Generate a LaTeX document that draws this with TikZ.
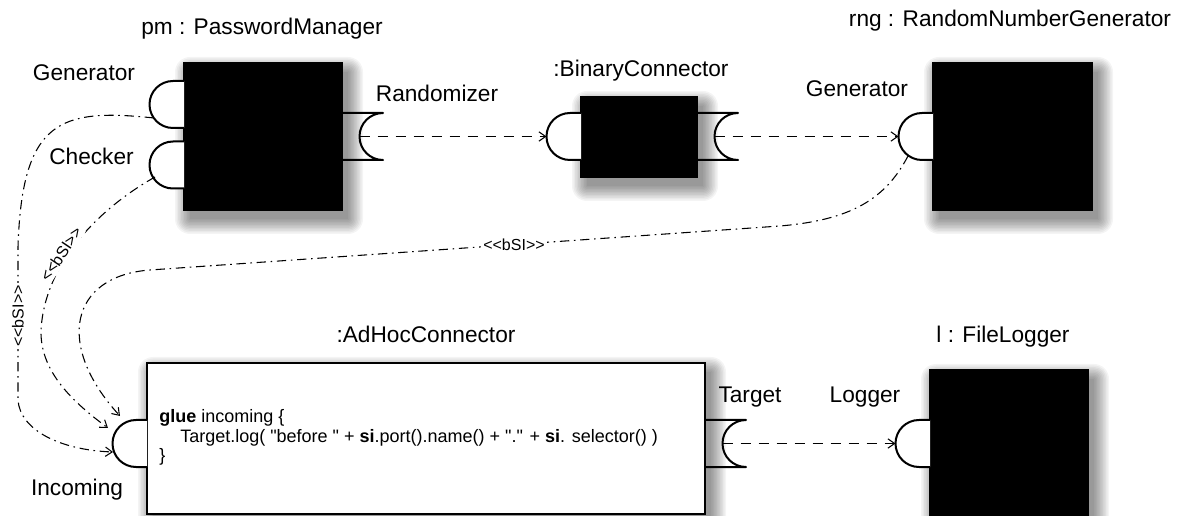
\documentclass[tikz,border=0pt]{standalone}
\usepackage{fontspec}
\setmainfont{Liberation Sans}
\usetikzlibrary{arrows.meta}
\newcommand\softshadow[4]{%
  \foreach \e in {0,1.5,...,15}{%
    \fill[black,opacity=0.045,rounded corners=\e*0.75pt] (#1+6-\e,#2+9-\e) rectangle (#3+6+\e,#4+9+\e);}}
\newcommand\provport[3]{% box edge x, centre y, name
  \draw[port,fill=white] (#1,#2-23.5) -- (#1-11,#2-23.5)
    .. controls (#1-24,#2-23.5) and (#1-34.5,#2-13) .. (#1-34.5,#2)
    .. controls (#1-34.5,#2+13) and (#1-24,#2+23.5) .. (#1-11,#2+23.5) -- (#1,#2+23.5);
  \coordinate (#3) at (#1-34.5,#2);}
\newcommand\sockport[3]{% box edge x, centre y, name
  \draw[port] (#1,#2-23.5) -- (#1+41,#2-23.5)
    .. controls (#1+28,#2-23.5) and (#1+17.5,#2-13) .. (#1+17.5,#2)
    .. controls (#1+17.5,#2+13) and (#1+28,#2+23.5) .. (#1+41,#2+23.5) -- (#1,#2+23.5);
  \coordinate (#3) at (#1+17.5,#2);}
\newcommand\qq{\XeTeXglyph\XeTeXcharglyph"22\relax}
\newcommand\bsitext{<{}<bSI>{}>}
\tikzset{
  port/.style={line width=1.5pt,line join=round},
  blackbox/.style={fill=black,draw=black,line width=1pt},
  lbl/.style={inner sep=0pt,anchor=base,font=\fontsize{17}{20}\selectfont},
  code/.style={inner sep=0pt,anchor=base west,font=\fontsize{13.5}{15}\selectfont},
  bsi/.style={inner sep=1.5pt,fill=white,font=\fontsize{12}{13}\selectfont},
  dashconn/.style={line width=0.8pt,dash pattern=on 8pt off 5.5pt,-{Straight Barb[length=5pt,width=7pt]}},
  dotconn/.style={line width=0.8pt,dash pattern=on 7pt off 3.5pt on 1.2pt off 3.5pt,-{Straight Barb[length=5pt,width=7pt]}},
}
\begin{document}
\begin{tikzpicture}[x=0.75pt,y=-0.75pt]
\useasboundingbox (0,0) rectangle (1178,516);
\clip (0,0) rectangle (1178,516);
\fill[white] (0,0) rectangle (1178,516);
% shadows
\softshadow{184}{63}{342}{210}
\softshadow{581}{97}{697}{177}
\softshadow{933}{63}{1092}{210}
\softshadow{147}{363}{705}{514}
\softshadow{930}{370}{1088}{530}
% boxes
\node[blackbox,minimum width=158*0.75pt,minimum height=147*0.75pt,inner sep=0pt] (pm) at (263,136.5) {};
\node[blackbox,minimum width=116*0.75pt,minimum height=80*0.75pt,inner sep=0pt] (bc) at (639,137) {};
\node[blackbox,minimum width=159*0.75pt,minimum height=147*0.75pt,inner sep=0pt] (rng) at (1012.5,136.5) {};
\node[draw=black,fill=white,line width=1.5pt,minimum width=558*0.75pt,minimum height=151*0.75pt,inner sep=0pt] (adhoc) at (426,438.5) {};
\node[blackbox,minimum width=158*0.75pt,minimum height=160*0.75pt,inner sep=0pt] (fl) at (1009,450) {};
% ports
\provport{184}{104.5}{pmGen}
\provport{184}{165}{pmChk}
\sockport{342}{136.5}{pmRand}
\provport{581}{136.5}{bcIn}
\sockport{697}{136.5}{bcOut}
\provport{933}{136.5}{rngGen}
\provport{147}{443.5}{adIn}
\sockport{705}{443.5}{adTarget}
\provport{930}{443.5}{flLog}
% connector end points
\coordinate (pmGenOut) at (154,118);
\coordinate (pmChkOut) at (155,177);
\coordinate (rngOut) at (908,156);
\coordinate (inA) at (113,452);
\coordinate (inB) at (108,428);
\coordinate (inC) at (120,416);
% labels
\node[lbl] (pmlbl) at (262,35) {pm : PasswordManager};
\node[lbl] (pmgenlbl) at (84,81) {Generator};
\node[lbl] (pmchklbl) at (91.5,165) {Checker};
\node[lbl] (randlbl) at (437,102) {Randomizer};
\node[lbl] (bclbl) at (641,77) {:BinaryConnector};
\node[lbl] (rnglbl) at (1010,27) {rng : RandomNumberGenerator};
\node[lbl] (rnggenlbl) at (857,97) {Generator};
\node[lbl] (adlbl) at (426,343) {:AdHocConnector};
\node[lbl] (fllbl) at (1003,343) {l : FileLogger};
\node[lbl] (inlbl) at (77,495) {Incoming};
\node[lbl] (tglbl) at (750,403) {Target};
\node[lbl] (loglbl) at (865,403) {Logger};
% code
\node[code] (code1) at (159,423) {\textbf{glue} incoming \{};
\node[code] (code2) at (180,442) {Target.log( \qq before \qq{} + \textbf{si}.port().name() + \qq.\qq{} + \textbf{si}. selector() )};
\node[code] (code3) at (159,461) {\}};
% dashed connectors
\draw[dashconn] (pmRand) -- (bcIn);
\draw[dashconn] (bcOut) -- (rngGen);
\draw[dashconn] (adTarget) -- (flLog);
% bSI connectors
\draw[dotconn] (pmGenOut) .. controls (60,108) and (22,120) .. (18,247) -- (18,400) .. controls (20,430) and (60,450) .. (inA);
\draw[dotconn] (pmChkOut) .. controls (100,208) and (45,262) .. (41,330) .. controls (40,370) and (70,400) .. (inB);
\draw[dotconn] (rngOut) .. controls (885,200) and (850,220) .. (780,226) -- (150,270) .. controls (70,276) and (55,345) .. (inC);
\node[bsi,rotate=90] (bsi1) at (18,316) {\bsitext};
\node[bsi,rotate=56] (bsi2) at (61,254) {\bsitext};
\node[bsi] (bsi3) at (514,245) {\bsitext};
\end{tikzpicture}
\end{document}
